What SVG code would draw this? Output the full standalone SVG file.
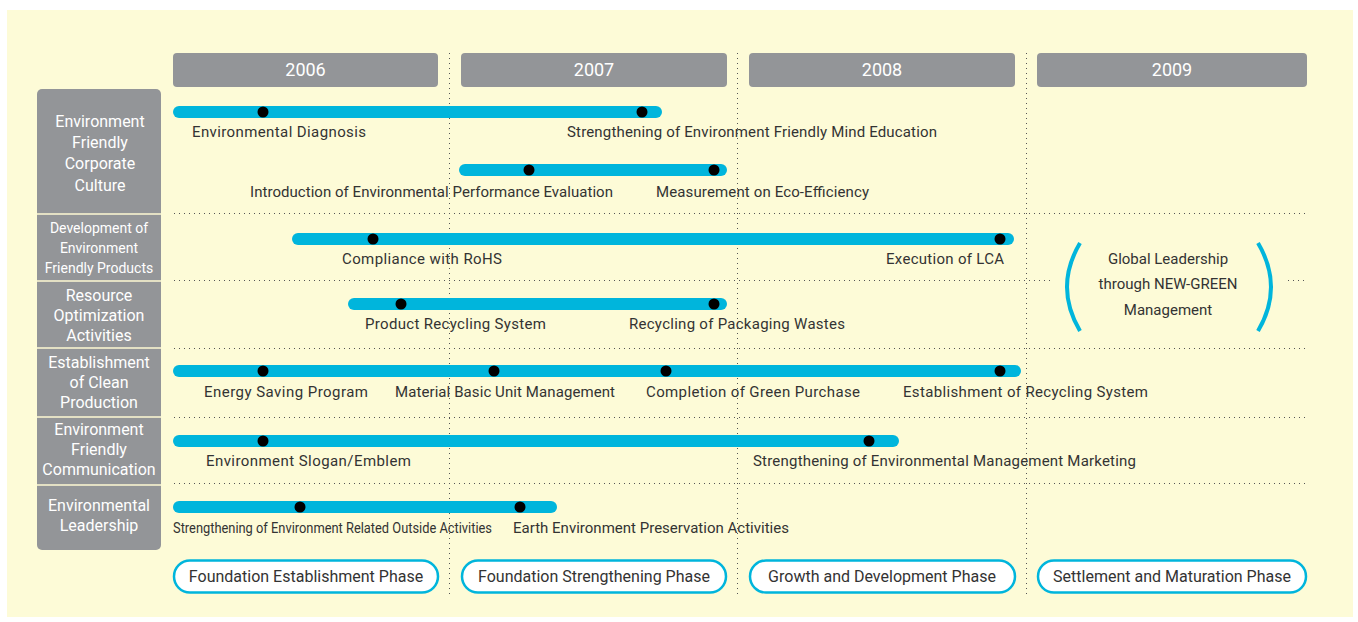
<svg xmlns="http://www.w3.org/2000/svg" width="1358" height="622" viewBox="0 0 1358 622">
<style>
.bg{fill:#fdfbd7}
.yr{fill:#939598}
.yt{fill:#fff;font-family:Roboto,"Liberation Sans",sans-serif;font-size:18px;text-anchor:middle}
.rl{fill:#fff;font-family:Roboto,"Liberation Sans",sans-serif;font-size:16px;text-anchor:middle}
.rs{font-size:14px}
.vd{stroke:#555;stroke-width:1;stroke-dasharray:1 4}
.hd{stroke:#555;stroke-width:1;stroke-dasharray:1 4}
.bar{stroke:#00b5dc;stroke-width:12;stroke-linecap:round}
.dot{fill:#000}
.lb{fill:#333;font-family:Roboto,"Liberation Sans",sans-serif;font-size:15px}
.ph{fill:#fff;stroke:#00b5dc;stroke-width:2.5}
.pt{fill:#333;font-family:Roboto,"Liberation Sans",sans-serif;font-size:16px;text-anchor:middle}
.par{fill:none;stroke:#00b5dc;stroke-width:4}
.sep{stroke:#e3e0c4;stroke-width:2}
</style>
<rect x="7" y="10" width="1346" height="607" class="bg"/>
<g id="grid">
<line class="vd" x1="449.5" y1="53" x2="449.5" y2="594"/>
<line class="vd" x1="737.5" y1="53" x2="737.5" y2="594"/>
<line class="vd" x1="1026.5" y1="53" x2="1026.5" y2="594"/>
<line class="hd" x1="174" y1="213.5" x2="1308" y2="213.5"/>
<line class="hd" x1="174" y1="280.5" x2="1050" y2="280.5"/>
<line class="hd" x1="1288" y1="280.5" x2="1308" y2="280.5"/>
<line class="hd" x1="174" y1="348.5" x2="1308" y2="348.5"/>
<line class="hd" x1="174" y1="417.5" x2="1308" y2="417.5"/>
<line class="hd" x1="174" y1="483.5" x2="1308" y2="483.5"/>
</g>
<g id="years">
<rect class="yr" x="173" y="53" width="265" height="34" rx="4"/>
<text class="yt" x="305.5" y="76">2006</text>
<rect class="yr" x="461" y="53" width="266" height="34" rx="4"/>
<text class="yt" x="594" y="76">2007</text>
<rect class="yr" x="749" y="53" width="266" height="34" rx="4"/>
<text class="yt" x="882" y="76">2008</text>
<rect class="yr" x="1037" y="53" width="270" height="34" rx="4"/>
<text class="yt" x="1172" y="76">2009</text>
</g>
<g id="rows">
<rect class="yr" x="37" y="89" width="124" height="461" rx="5"/>
<line class="sep" x1="37" y1="214" x2="161" y2="214"/>
<line class="sep" x1="37" y1="281" x2="161" y2="281"/>
<line class="sep" x1="37" y1="348" x2="161" y2="348"/>
<line class="sep" x1="37" y1="417" x2="161" y2="417"/>
<line class="sep" x1="37" y1="485" x2="161" y2="485"/>
<text class="rl" x="100"><tspan x="100" y="127">Environment</tspan><tspan x="100" y="148">Friendly</tspan><tspan x="100" y="169">Corporate</tspan><tspan x="100" y="191">Culture</tspan></text>
<text class="rl rs" x="99"><tspan x="99" y="233">Development of</tspan><tspan x="99" y="253">Environment</tspan><tspan x="99" y="273">Friendly Products</tspan></text>
<text class="rl" x="99"><tspan x="99" y="301">Resource</tspan><tspan x="99" y="321">Optimization</tspan><tspan x="99" y="341">Activities</tspan></text>
<text class="rl" x="99"><tspan x="99" y="368">Establishment</tspan><tspan x="99" y="388">of Clean</tspan><tspan x="99" y="408">Production</tspan></text>
<text class="rl" x="99"><tspan x="99" y="435">Environment</tspan><tspan x="99" y="455">Friendly</tspan><tspan x="99" y="475">Communication</tspan></text>
<text class="rl" x="99"><tspan x="99" y="511">Environmental</tspan><tspan x="99" y="531">Leadership</tspan></text>
</g>
<g id="bars">
<line class="bar" x1="179" y1="112" x2="656" y2="112"/>
<circle class="dot" cx="263" cy="112" r="5.5"/><circle class="dot" cx="642" cy="112" r="5.5"/>
<line class="bar" x1="465" y1="170" x2="721" y2="170"/>
<circle class="dot" cx="529" cy="170" r="5.5"/><circle class="dot" cx="714" cy="170" r="5.5"/>
<line class="bar" x1="298" y1="239" x2="1008" y2="239"/>
<circle class="dot" cx="373" cy="239" r="5.5"/><circle class="dot" cx="1000" cy="239" r="5.5"/>
<line class="bar" x1="354" y1="304" x2="721" y2="304"/>
<circle class="dot" cx="401" cy="304" r="5.5"/><circle class="dot" cx="714" cy="304" r="5.5"/>
<line class="bar" x1="179" y1="371" x2="1015" y2="371"/>
<circle class="dot" cx="263" cy="371" r="5.5"/><circle class="dot" cx="494" cy="371" r="5.5"/><circle class="dot" cx="666" cy="371" r="5.5"/><circle class="dot" cx="1000" cy="371" r="5.5"/>
<line class="bar" x1="179" y1="441" x2="893" y2="441"/>
<circle class="dot" cx="263" cy="441" r="5.5"/><circle class="dot" cx="869" cy="441" r="5.5"/>
<line class="bar" x1="179" y1="507" x2="551" y2="507"/>
<circle class="dot" cx="300" cy="507" r="5.5"/><circle class="dot" cx="520" cy="507" r="5.5"/>
</g>
<g id="labels">
<text class="lb" x="192" y="137" textLength="174">Environmental Diagnosis</text>
<text class="lb" x="567" y="137" textLength="370">Strengthening of Environment Friendly Mind Education</text>
<text class="lb" x="250" y="197" textLength="363">Introduction of Environmental Performance Evaluation</text>
<text class="lb" x="656" y="197" textLength="213">Measurement on Eco-Efficiency</text>
<text class="lb" x="342" y="264" textLength="160">Compliance with RoHS</text>
<text class="lb" x="886" y="264" textLength="118">Execution of LCA</text>
<text class="lb" x="365" y="329" textLength="181">Product Recycling System</text>
<text class="lb" x="629" y="329" textLength="216">Recycling of Packaging Wastes</text>
<text class="lb" x="204" y="397" textLength="164">Energy Saving Program</text>
<text class="lb" x="395" y="397" textLength="220">Material Basic Unit Management</text>
<text class="lb" x="646" y="397" textLength="214">Completion of Green Purchase</text>
<text class="lb" x="903" y="397" textLength="245">Establishment of Recycling System</text>
<text class="lb" x="206" y="466" textLength="205">Environment Slogan/Emblem</text>
<text class="lb" x="753" y="466" textLength="383">Strengthening of Environmental Management Marketing</text>
<text class="lb" x="173" y="533" style="font-size:14.5px" textLength="319" lengthAdjust="spacingAndGlyphs">Strengthening of Environment Related Outside Activities</text>
<text class="lb" x="513" y="533" textLength="276">Earth Environment Preservation Activities</text>
</g>
<g id="goal">
<path class="par" d="M1080 243 Q1054 287 1080 331"/>
<path class="par" d="M1258 243 Q1284 287 1258 331"/>
<text class="lb" x="1168" text-anchor="middle" style="font-size:15px"><tspan x="1168" y="264">Global Leadership</tspan><tspan x="1168" y="289">through NEW-GREEN</tspan><tspan x="1168" y="315">Management</tspan></text>
</g>
<g id="phases">
<rect class="ph" x="174" y="560.5" width="264" height="32" rx="16"/>
<text class="pt" x="306" y="582">Foundation Establishment Phase</text>
<rect class="ph" x="462" y="560.5" width="264" height="32" rx="16"/>
<text class="pt" x="594" y="582">Foundation Strengthening Phase</text>
<rect class="ph" x="750" y="560.5" width="265" height="32" rx="16"/>
<text class="pt" x="882" y="582">Growth and Development Phase</text>
<rect class="ph" x="1038" y="560.5" width="268" height="32" rx="16"/>
<text class="pt" x="1172" y="582">Settlement and Maturation Phase</text>
</g>
</svg>
